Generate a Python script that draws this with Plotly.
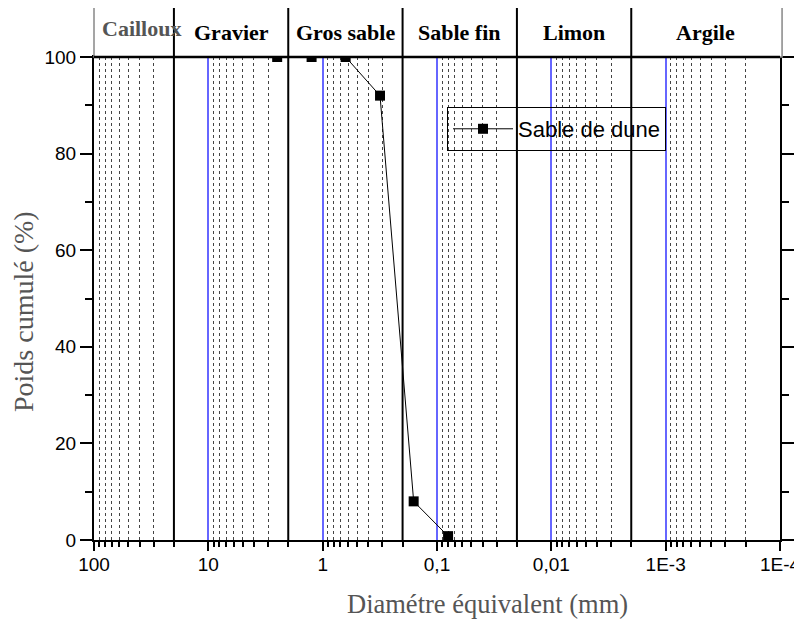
import math
import plotly.graph_objects as go

# ---- data ----
diam_mm = [2.5, 1.25, 0.63, 0.315, 0.16, 0.08]
poids_cumule = [100, 100, 100, 92, 8, 0.8]
series_name = "Sable de dune"

x_tickvals = [100, 10, 1, 0.1, 0.01, 0.001, 0.0001]
x_ticktext = ["100", "10", "1", "0,1", "0,01", "1E-3", "1E-4"]
minor_digits = [9, 8, 7, 6, 5, 4, 3, 2]
minor_exponents = [1, 0, -1, -2, -3, -4]

class_edges = [100, 20, 2, 0.2, 0.02, 0.002, 0.0001]
class_names = ["Cailloux", "Gravier", "Gros sable", "Sable fin", "Limon", "Argile"]
class_colors = ["#555555", "black", "black", "black", "black", "black"]

y_title = "Poids cumulé (%)"
x_title = "Diamétre équivalent (mm)"

minor_vals = [d * 10.0 ** e for e in minor_exponents for d in minor_digits]

SERIF = "Liberation Serif"
SANS = "Liberation Sans"

fig = go.Figure()
fig.add_trace(go.Scatter(
    x=diam_mm, y=poids_cumule, name=series_name, mode="lines+markers",
    line=dict(color="black", width=1),
    marker=dict(symbol="square", size=10, color="black"),
    cliponaxis=True,
))

header_top = 1 + 50 / 483.0

shapes = []
# header frame (white fill hides anything above the 100 % line)
shapes.append(dict(type="rect", xref="paper", yref="paper", x0=0, x1=1.003,
                   y0=1, y1=header_top, line=dict(color="#888888", width=1.5),
                   fillcolor="white", layer="above"))
# top frame line
shapes.append(dict(type="line", xref="paper", yref="paper", x0=0, x1=1,
                   y0=1, y1=1, line=dict(color="black", width=2.5)))
# class boundary lines
for b in class_edges[1:-1]:
    shapes.append(dict(type="line", xref="x", yref="paper", x0=b, x1=b,
                       y0=0, y1=header_top + 0.004, line=dict(color="black", width=2)))

annotations = []
for i, name in enumerate(class_names):
    lo, hi = class_edges[i], class_edges[i + 1]
    xc = (math.log10(lo) + math.log10(hi)) / 2
    if i == 0:
        xc -= 0.07
    annotations.append(dict(
        xref="x", yref="paper", x=xc, y=1.051 if i else 1.058, text=name,
        showarrow=False, xanchor="center", yanchor="middle",
        font=dict(family=SERIF, size=22, color=class_colors[i], weight="bold"),
    ))

# axis titles
annotations.append(dict(
    xref="paper", yref="paper", x=(23 - 94) / 686.0, y=(540 - 312) / 483.0,
    text=y_title, textangle=-90, showarrow=False,
    xanchor="center", yanchor="middle",
    font=dict(family=SERIF, size=28, color="#555555"),
))
annotations.append(dict(
    xref="paper", yref="paper", x=(488 - 94) / 686.0, y=(540 - 604) / 483.0,
    text=x_title, showarrow=False, xanchor="center", yanchor="middle",
    font=dict(family=SERIF, size=26.5, color="#555555"),
))

fig.update_layout(
    width=794, height=614,
    margin=dict(l=86, r=22, t=49, b=82),
    plot_bgcolor="white", paper_bgcolor="white",
    shapes=shapes, annotations=annotations,
    showlegend=True,
    legend=dict(x=0.5146, y=0.8965, xanchor="left", yanchor="top",
                bgcolor="rgba(0,0,0,0)", bordercolor="black", borderwidth=1,
                font=dict(family=SANS, size=22, color="black"),
                itemwidth=60),
    xaxis=dict(
        type="log", range=[2, -4], tickmode="array",
        tickvals=x_tickvals, ticktext=x_ticktext,
        ticks="outside", ticklen=9, tickwidth=2, tickcolor="black",
        ticklabeloverflow="allow", ticklabelstandoff=-3,
        showline=True, linewidth=2, linecolor="black", mirror=True,
        showgrid=True, gridcolor="#6666ff", gridwidth=1.5,
        zeroline=False,
        minor=dict(tickmode="array", tickvals=minor_vals, ticks="outside",
                   ticklen=5, tickwidth=1.5, tickcolor="black",
                   showgrid=True, gridcolor="#444444", griddash="dot",
                   gridwidth=1),
        tickfont=dict(family=SANS, size=19, color="black"),
        automargin=False,
    ),
    yaxis=dict(
        range=[0, 100], tick0=0, dtick=20,
        ticks="outside", ticklen=12, tickwidth=2, tickcolor="black",
        showline=True, linewidth=2, linecolor="black", mirror="ticks",
        showgrid=False, zeroline=False,
        minor=dict(dtick=10, ticks="outside", ticklen=7, tickwidth=1.5,
                   tickcolor="black", showgrid=False),
        tickfont=dict(family=SANS, size=19, color="black"),
        automargin=False,
    ),
)

fig.write_html("out.html")
